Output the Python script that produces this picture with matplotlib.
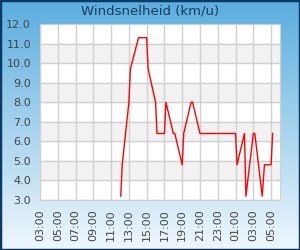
import numpy as np
import pandas as pd
import matplotlib
matplotlib.use("Agg")
import matplotlib.pyplot as plt
import matplotlib.dates as mdates
from matplotlib.patches import Rectangle

# wind speed readings (km/u)
times = ["2024-01-01 12:05", "2024-01-01 12:15", "2024-01-01 13:00", "2024-01-01 13:10",
         "2024-01-01 14:05", "2024-01-01 15:00", "2024-01-01 15:10", "2024-01-01 16:00",
         "2024-01-01 16:10", "2024-01-01 17:00", "2024-01-01 17:10", "2024-01-01 18:00",
         "2024-01-01 18:10", "2024-01-01 19:00", "2024-01-01 19:10", "2024-01-01 20:00",
         "2024-01-01 20:10", "2024-01-01 21:00", "2024-01-02 01:00", "2024-01-02 01:10",
         "2024-01-02 02:00", "2024-01-02 02:10", "2024-01-02 03:00", "2024-01-02 03:10",
         "2024-01-02 04:00", "2024-01-02 04:15", "2024-01-02 05:00", "2024-01-02 05:10"]
speed = [3.2, 4.8, 8.0, 9.7,
         11.3, 11.3, 9.7, 8.0,
         6.4, 6.4, 8.0, 6.4,
         6.4, 4.8, 6.4, 8.0,
         8.0, 6.4, 6.4, 4.8,
         6.4, 3.2, 6.4, 6.4,
         3.2, 4.8, 4.8, 6.4]
t = pd.to_datetime(times)
x_start = pd.Timestamp("2024-01-01 03:00")
x_end = pd.Timestamp("2024-01-02 06:00")

fig = plt.figure(figsize=(3, 2.5), dpi=100)

# gradient background
bg = fig.add_axes([0, 0, 1, 1], zorder=-10)
top_c = np.array([0.35, 0.68, 0.87])
bot_c = np.array([0.94, 0.97, 0.99])
g = np.linspace(0, 1, 256)[:, None]
img = top_c[None, None, :] * (1 - g[:, :, None]) + bot_c[None, None, :] * g[:, :, None]
bg.imshow(img, aspect="auto", extent=[0, 1, 0, 1])
bg.axis("off")
fig.patches.append(Rectangle((0, 0), 1, 1, transform=fig.transFigure, fill=False,
                             edgecolor="#0b3a68", linewidth=2.5))

ax = fig.add_axes([40 / 300, 50 / 250, 240 / 300, 176 / 250])
ax.set_facecolor("white")
for lo in [4, 6, 8, 10]:
    ax.axhspan(lo, lo + 1, color="#f2f2f2", zorder=0)
ax.plot(t, speed, color="red", linewidth=1.0, zorder=3)

ax.set_ylim(3, 12)
ax.set_yticks(np.arange(3, 12.1, 1))
ax.yaxis.set_major_formatter(plt.FormatStrFormatter("%.1f"))
ax.set_xlim(x_start, x_end)
ax.xaxis.set_major_locator(mdates.HourLocator(byhour=range(1, 24, 2)))
ax.xaxis.set_major_formatter(mdates.DateFormatter("%H:%M"))
ax.grid(True, color="#d0d0d0", linewidth=1.0, zorder=1)
ax.set_axisbelow(True)
ax.tick_params(length=0, labelsize=8, colors="#444444", pad=6.5)
ax.tick_params(axis="x", rotation=90, pad=7)
for s in ax.spines.values():
    s.set_color("#d0d0d0")

fig.text(0.5, 1 - 11 / 250, "Windsnelheid (km/u)", ha="center", va="center",
         fontsize=9.5, color="#1b3a5c")

fig.savefig("out.png", dpi=100)
